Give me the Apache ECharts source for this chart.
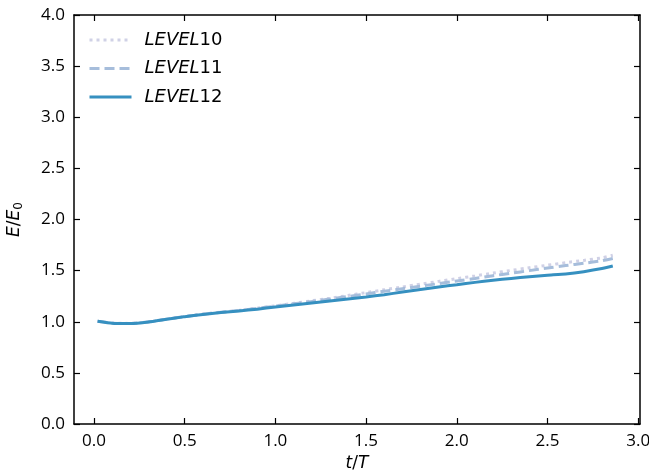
<!DOCTYPE html>
<html>
<head>
<meta charset="utf-8">
<script src="https://cdn.jsdelivr.net/npm/echarts@6/dist/echarts.min.js"></script>
<style>
  html, body { margin: 0; padding: 0; background: #fff; }
  #chart { width: 649px; height: 475px; }
</style>
</head>
<body>
<div id="chart"></div>
<script>
// ---- data ----
const tValues = [0.02, 0.1, 0.2, 0.3, 0.4, 0.5, 0.6, 0.7, 0.8, 0.9, 1.0, 1.1, 1.2, 1.3, 1.4,
  1.5, 1.6, 1.7, 1.8, 1.9, 2.0, 2.1, 2.2, 2.3, 2.4, 2.5, 2.6, 2.7, 2.8, 2.86]

const level10 = [1.005, 0.987, 0.984, 0.999, 1.026, 1.052, 1.075, 1.094, 1.113, 1.134, 1.156, 1.18,
  1.205, 1.23, 1.257, 1.285, 1.313, 1.34, 1.368, 1.395, 1.422, 1.448, 1.476, 1.502, 1.528, 1.553,
  1.578, 1.6, 1.625, 1.65]
const level11 = [1.005, 0.986, 0.983, 0.998, 1.025, 1.051, 1.073, 1.092, 1.111, 1.131, 1.152, 1.175,
  1.198, 1.222, 1.247, 1.272, 1.298, 1.323, 1.348, 1.373, 1.398, 1.423, 1.45, 1.475, 1.5, 1.525,
  1.55, 1.572, 1.597, 1.618]
const level12 = [1.005, 0.985, 0.982, 0.997, 1.024, 1.05, 1.071, 1.09, 1.106, 1.123, 1.145, 1.163,
  1.183, 1.203, 1.223, 1.243, 1.265, 1.29, 1.315, 1.34, 1.362, 1.385, 1.405, 1.424, 1.44, 1.455,
  1.468, 1.49, 1.52, 1.545]

const xTicks = [0.0, 0.5, 1.0, 1.5, 2.0, 2.5, 3.0]

const FONT = '"Open Sans", "Noto Sans", sans-serif'
const MATH = '"DejaVu Sans", sans-serif'

function pairs(ys) {
  return tValues.map((t, i) => [t, ys[i]])
}

const chart = echarts.init(document.getElementById('chart'))

// 刻度朝内，四边都有
const axisLine = { show: true, onZero: false, lineStyle: { color: '#000', width: 1.5 } }
const tickIn = { show: true, inside: true, length: 6, lineStyle: { color: '#000', width: 1.2 } }

chart.setOption({
  animation: false,
  grid: { left: 74, right: 9, top: 15, bottom: 51, outerBoundsMode: 'none', containLabel: false },
  legend: {
    left: 88,
    top: 31,
    padding: 0,
    orient: 'vertical',
    itemWidth: 42,
    itemHeight: 18,
    itemGap: 10.5,
    itemStyle: { opacity: 0 },
    lineStyle: { width: 3 },
    textStyle: {
      fontFamily: MATH,
      fontSize: 18,
      lineHeight: 18,
      color: '#000',
      padding: [0, 0, 0, 8],
      rich: {
        i: { fontFamily: MATH, fontSize: 18, fontStyle: 'italic', color: '#000' },
        n: { fontFamily: MATH, fontSize: 18, color: '#000' }
      }
    },
    formatter: name => '{i|LEVEL}{n|' + name.replace('LEVEL', '') + '}',
    data: ['LEVEL10', 'LEVEL11', 'LEVEL12']
  },
  xAxis: [
    {
      type: 'value',
      min: -0.11,
      max: 3.01,
      name: '{i|t}/{i|T}',
      nameLocation: 'middle',
      nameGap: 30,
      nameTextStyle: {
        fontFamily: MATH, fontSize: 17, color: '#000',
        rich: { i: { fontFamily: MATH, fontSize: 17, fontStyle: 'italic', color: '#000' } }
      },
      axisLine,
      axisTick: Object.assign({ customValues: xTicks }, tickIn),
      splitLine: { show: false },
      axisLabel: {
        fontFamily: FONT, fontSize: 17, color: '#000', margin: 9,
        customValues: xTicks,
        formatter: v => v.toFixed(1)
      }
    },
    {
      type: 'value',
      position: 'top',
      min: -0.11,
      max: 3.01,
      axisLine,
      axisTick: Object.assign({ customValues: xTicks }, tickIn),
      splitLine: { show: false },
      axisLabel: { show: false }
    }
  ],
  yAxis: [
    {
      type: 'value',
      min: 0,
      max: 4,
      interval: 0.5,
      name: '{i|E}/{i|E}{s|0}',
      nameLocation: 'middle',
      nameGap: 49,
      nameTextStyle: {
        fontFamily: MATH, fontSize: 17, color: '#000',
        rich: {
          i: { fontFamily: MATH, fontSize: 17, fontStyle: 'italic', color: '#000' },
          s: { fontFamily: MATH, fontSize: 12, color: '#000', padding: [8, 0, 0, 0] }
        }
      },
      axisLine,
      axisTick: tickIn,
      splitLine: { show: false },
      axisLabel: {
        fontFamily: FONT, fontSize: 17, color: '#000', margin: 9,
        formatter: v => v.toFixed(1)
      }
    },
    {
      type: 'value',
      position: 'right',
      min: 0,
      max: 4,
      interval: 0.5,
      axisLine,
      axisTick: tickIn,
      splitLine: { show: false },
      axisLabel: { show: false }
    }
  ],
  series: [
    {
      name: 'LEVEL10',
      type: 'line',
      data: pairs(level10),
      showSymbol: false,
      symbol: 'none',
      smooth: 0.15,
      lineStyle: { color: '#d0d1e6', width: 3, type: [3, 4] },
      itemStyle: { color: '#d0d1e6' },
      z: 1
    },
    {
      name: 'LEVEL11',
      type: 'line',
      data: pairs(level11),
      showSymbol: false,
      symbol: 'none',
      smooth: 0.15,
      lineStyle: { color: '#a6bddb', width: 3, type: [10, 5] },
      itemStyle: { color: '#a6bddb' },
      z: 2
    },
    {
      name: 'LEVEL12',
      type: 'line',
      data: pairs(level12),
      showSymbol: false,
      symbol: 'none',
      smooth: 0.15,
      lineStyle: { color: '#3690c0', width: 3 },
      itemStyle: { color: '#3690c0' },
      z: 3
    }
  ]
})
</script>
</body>
</html>
